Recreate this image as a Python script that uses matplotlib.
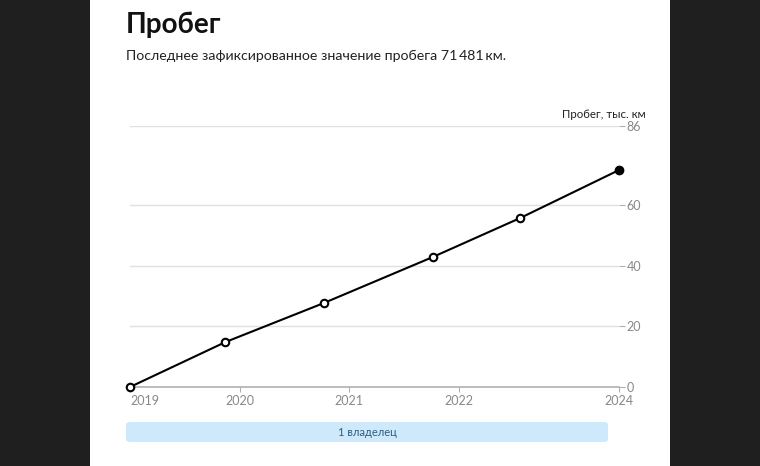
import matplotlib.pyplot as plt
from matplotlib.patches import Rectangle, FancyBboxPatch

plt.rcParams['font.family'] = ['Lato', 'DejaVu Sans']

# mileage readings (fractional year, thousand km)
dates = [2019.0, 2019.87, 2020.77, 2021.76, 2022.56, 2023.46]
mileage = [0.0, 14.8, 27.7, 42.8, 55.7, 71.481]

x_ticks = [2019.0, 2020.0, 2021.0, 2022.0, 2023.46]
x_labels = ["2019", "2020", "2021", "2022", "2024"]
y_ticks = [0, 20, 40, 60, 86]

W, H = 760, 466
fig = plt.figure(figsize=(W / 100, H / 100), dpi=100)
fig.patch.set_facecolor("#1f1f1f")

# white card
fig.patches.append(Rectangle((90 / W, 0), 580 / W, 1, transform=fig.transFigure,
                             facecolor="white", edgecolor="none", zorder=-10))

fig.text(126 / W, 1 - 25 / H, "Пробег", fontsize=20, fontweight="bold",
         color="#111111", va="center", ha="left")
fig.text(126 / W, 1 - 56 / H, "Последнее зафиксированное значение пробега 71\u2009481\u2009км.",
         fontsize=10.2, color="#222222", va="center", ha="left")

ax = fig.add_axes([130 / W, 1 - 387 / H, 489 / W, 261 / H])
ax.set_facecolor("none")
ax.plot(dates, mileage, color="black", lw=1.5, zorder=3, clip_on=False)
ax.plot(dates[:-1], mileage[:-1], "o", ms=5.4, mfc="white", mec="black", mew=1.5,
        zorder=4, clip_on=False)
ax.plot(dates[-1:], mileage[-1:], "o", ms=6, color="black", zorder=4, clip_on=False)

ax.set_xlim(dates[0], x_ticks[-1])
ax.set_ylim(0, 86)
ax.set_xticks(x_ticks, x_labels)
ax.get_xticklabels()[0].set_horizontalalignment("left")
ax.set_yticks(y_ticks)
ax.yaxis.tick_right()
for s in ["top", "left", "right"]:
    ax.spines[s].set_visible(False)
ax.spines["bottom"].set_color("#b0b0b0")
ax.spines["bottom"].set_linewidth(1.2)
ax.grid(axis="y", color="#e0e0e0", lw=1)
ax.tick_params(axis="y", length=4.5, color="#b0b0b0", labelcolor="#888888",
               labelsize=9, pad=1)
ax.tick_params(axis="x", direction="out", length=3.5, color="#b0b0b0",
               labelcolor="#888888", labelsize=9, pad=2.5)
ax.set_axisbelow(True)

fig.text(646 / W, 1 - 115 / H, "Пробег, тыс. км", fontsize=8.3, color="#222222",
         ha="right", va="center")

# owners bar
fig.patches.append(FancyBboxPatch((126 / W, 1 - 442 / H), 482 / W, 20 / H,
                                  boxstyle="round,pad=0,rounding_size=0.006",
                                  transform=fig.transFigure, facecolor="#cde9fb",
                                  edgecolor="none", zorder=1))
fig.text(367 / W, 1 - 432 / H, "1 владелец", fontsize=8, color="#2f5f80",
         ha="center", va="center")

fig.savefig("out.png", dpi=100)
